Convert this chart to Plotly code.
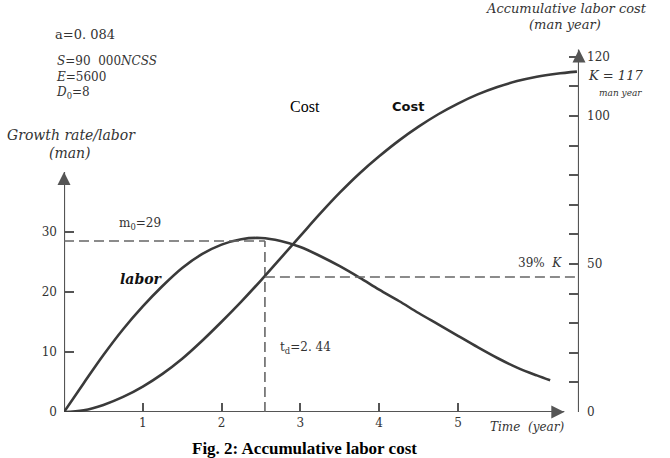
import plotly.graph_objects as go

# ---- data ----
labor_t = [0, 0.25, 0.5, 0.75, 1.0, 1.25, 1.5, 1.75, 2.0, 2.25, 2.5, 2.75, 3.0, 3.25, 3.5,
           3.75, 4.0, 4.25, 4.5, 4.75, 5.0, 5.25, 5.5, 5.75, 6.0, 6.17]
labor_man = [0, 4.8, 9.5, 13.8, 17.6, 21.0, 24.0, 26.3, 27.9, 28.8, 29.0, 28.5, 27.5, 26.0, 24.3,
             22.4, 20.4, 18.5, 16.5, 14.6, 12.7, 10.8, 9.0, 7.4, 6.1, 5.3]

cost_t = [0, 0.25, 0.5, 0.75, 1.0, 1.25, 1.5, 1.75, 2.0, 2.25, 2.5, 2.75, 3.0, 3.25, 3.5,
          3.75, 4.0, 4.25, 4.5, 4.75, 5.0, 5.25, 5.5, 5.75, 6.0, 6.25, 6.51]
cost_man_year = [0, 0.6, 2.4, 5.1, 8.6, 12.9, 18.0, 24.0, 30.5, 37.3, 44.5, 52.0, 59.5, 67.0, 74.1,
                 80.6, 86.4, 91.7, 96.4, 100.6, 104.2, 107.3, 109.8, 111.8, 113.3, 114.3, 115.0]

peak_m0 = 28.5      # m0 dashed level (left axis)
t_d = 2.55          # vertical dashed line position
k39 = 45.6          # 39% K level (right axis)

x_ticks = [1, 2, 3, 4, 5]
y_ticks = [0, 10, 20, 30]
y2_ticks = [0, 50, 100, 120]

X_MAX = 6.536
X_ARROW = 6.45
Y_ARROW = 41.5
Y2_ARROW = 125.5
Y_MAX = 62.5
Y2_MAX = 126.7

FONT = "DejaVu Serif"
TIMES = "Liberation Serif"
LINE = "#3a3a3a"
AX = "#555555"
TXT = "#333333"

# pixel -> paper helpers for text placement
L, R, T, B = 64, 91, 37, 46
W, H = 670, 458
PW, PH = W - L - R, H - T - B


def px(x):
    return (x - L) / PW


def py(y):
    return (H - B - y) / PH


fig = go.Figure()

# axis lines with arrow heads
axl = dict(color=AX, width=2.2)
fig.add_trace(go.Scatter(x=[0, 0], y=[0, Y_ARROW - 1.5], mode="lines", line=axl, yaxis="y",
                         hoverinfo="skip", cliponaxis=False))
fig.add_trace(go.Scatter(x=[0], y=[Y_ARROW - 1.5], mode="markers", yaxis="y", hoverinfo="skip", cliponaxis=False,
                         marker=dict(symbol="arrow-up", size=13, color=AX, line=dict(width=0))))
fig.add_trace(go.Scatter(x=[X_MAX, X_MAX], y=[0, Y2_ARROW - 3], mode="lines", line=axl, yaxis="y2",
                         hoverinfo="skip", cliponaxis=False))
fig.add_trace(go.Scatter(x=[X_MAX], y=[Y2_ARROW - 3], mode="markers", yaxis="y2", hoverinfo="skip",
                         cliponaxis=False, marker=dict(symbol="arrow-up", size=13, color=AX, line=dict(width=0))))
fig.add_trace(go.Scatter(x=[0, X_ARROW - 0.1], y=[0, 0], mode="lines", line=axl, yaxis="y",
                         hoverinfo="skip", cliponaxis=False))
fig.add_trace(go.Scatter(x=[X_ARROW - 0.1], y=[0], mode="markers", yaxis="y", hoverinfo="skip", cliponaxis=False,
                         marker=dict(symbol="arrow-right", size=13, color=AX, line=dict(width=0))))

fig.add_trace(go.Scatter(x=labor_t, y=labor_man, mode="lines", line=dict(color=LINE, width=2.6, shape="spline"),
                         yaxis="y", hoverinfo="skip"))
fig.add_trace(go.Scatter(x=cost_t, y=cost_man_year, mode="lines", line=dict(color=LINE, width=2.6, shape="spline"),
                         yaxis="y2", hoverinfo="skip"))

dash = dict(color="#666666", width=1.6, dash="10px,5px")
fig.add_trace(go.Scatter(x=[0, t_d], y=[peak_m0, peak_m0], mode="lines", line=dash, yaxis="y", hoverinfo="skip"))
fig.add_trace(go.Scatter(x=[t_d, t_d], y=[0, peak_m0], mode="lines", line=dash, yaxis="y", hoverinfo="skip"))
fig.add_trace(go.Scatter(x=[t_d, X_MAX], y=[k39, k39], mode="lines", line=dash, yaxis="y2", hoverinfo="skip"))

ann = []


def txt(x, y, s, size=13, anchor="left", color=TXT, family=FONT, yanchor="middle"):
    ann.append(dict(x=px(x), y=py(y), xref="paper", yref="paper", text=s, showarrow=False,
                    xanchor=anchor, yanchor=yanchor, align="left", font=dict(family=family, size=size, color=color)))


txt(53, 35, "a=0. 084", 13)
txt(54, 52, "<i>S</i>=90&nbsp; 000<i>NCSS</i><br><i>E</i>=5600<br><i>D</i><sub>0</sub>=8", 12, yanchor="top")
txt(71, 135, "<i>Growth rate/labor</i>", 14, "center")
txt(70, 153, "<i>(man)</i>", 14, "center")
txt(566, 8, "<i>Accumulative labor cost</i>", 13, "center")
txt(565, 24, "<i>(man year)</i>", 13, "center")
txt(586, 75, "<i>K&nbsp;=&nbsp;117</i>", 13)
txt(597, 93, "<i>man year</i>", 9)
txt(305, 107, "Cost", 16, "center", "#000000", TIMES)
txt(408, 107, "<b>Cost</b>", 13, "center", "#111111", "DejaVu Sans")
txt(140, 224, "m<sub>0</sub>=29", 12, "center")
txt(141, 279, "<b><i>labor</i></b>", 14, "center", "#111111")
txt(278, 348, "t<sub>d</sub>=2. 44", 12)
txt(564, 263, "39%&nbsp; <i>K</i>", 12, "right")
txt(488, 427, "<i>Time&nbsp; (year)</i>", 12)
txt(304, 448, "<b>Fig. 2: Accumulative labor cost</b>", 17, "center", "#000000", TIMES)

axis_common = dict(showgrid=False, zeroline=False, showline=False, ticks="inside", tickcolor=AX,
                   tickwidth=1.5, tickfont=dict(family=FONT, size=12, color=TXT), fixedrange=True)

fig.update_layout(
    width=W, height=H,
    margin=dict(l=L, r=R, t=T, b=B, pad=0),
    paper_bgcolor="white", plot_bgcolor="white",
    showlegend=False,
    annotations=ann,
    xaxis=dict(range=[0, X_MAX], tickvals=x_ticks, ticklen=9, ticklabelstandoff=2, **axis_common),
    yaxis=dict(range=[0, Y_MAX], tickvals=y_ticks, ticklen=10, ticklabelstandoff=6, **axis_common),
    yaxis2=dict(range=[0, Y2_MAX], tickvals=y2_ticks, ticklen=10, ticklabelstandoff=7, overlaying="y",
                side="right",
                minor=dict(dtick=10, tick0=0, ticks="inside", ticklen=10, tickcolor=AX, tickwidth=1.5),
                **axis_common),
)

fig.write_html("out.html")
